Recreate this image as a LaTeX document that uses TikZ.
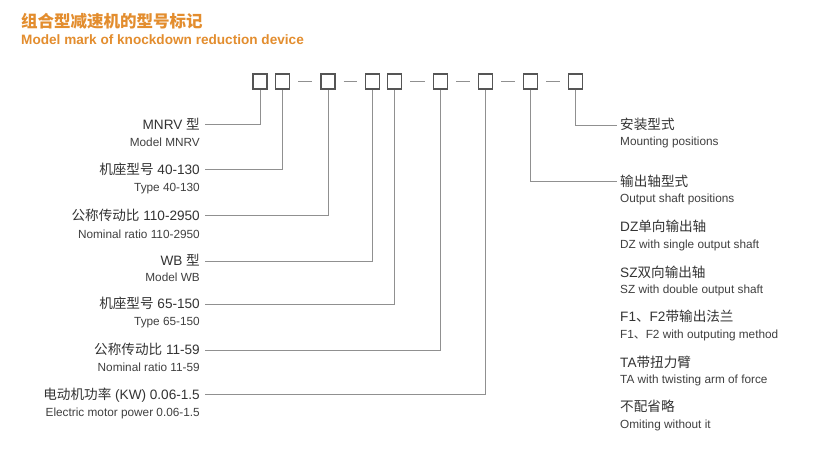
\documentclass[tikz,border=0pt]{standalone}
\usepackage{fontspec}
\setmainfont{Liberation Sans}
\newfontfamily\cjk{Noto Sans CJK SC}
\definecolor{ttl}{HTML}{E38D2E}
\definecolor{boxc}{HTML}{555555}
\definecolor{linec}{HTML}{909090}
\definecolor{maintxt}{HTML}{333333}
\definecolor{subtxt}{HTML}{404040}
\begin{document}
\begin{tikzpicture}[x=1pt,y=-1pt,
  mk/.style={draw=boxc, line width=1.3pt, minimum width=14pt, minimum height=15pt, inner sep=0pt, fill=white},
  conn/.style={draw=linec, line width=0.9pt},
  dashln/.style={draw=linec, line width=1pt, shorten <=8pt, shorten >=8pt},
  lmain/.style={font=\fontsize{13.6}{15}\selectfont, text=maintxt, text height=9.74pt, text depth=0pt, inner sep=0pt},
  lsub/.style={font=\fontsize{11.8}{13}\selectfont, text=subtxt, text height=8.45pt, text depth=0pt, inner sep=0pt}
]
\useasboundingbox[fill=white] (0,0) rectangle (821,461);

% title
\node[anchor=west, inner sep=0pt, text height=12.5pt, text depth=0pt, text=ttl,
      font=\cjk\bfseries\fontsize{16.5}{18}\selectfont] (t1) at (21,21.7) {组合型减速机的型号标记};
\node[anchor=west, inner sep=0pt, text height=9.8pt, text depth=0pt, text=ttl,
      font=\bfseries\fontsize{13.6}{15}\selectfont] (t2) at (21,39.3) {Model mark of knockdown reduction device};

% code boxes
\node[mk] (b1) at (260,81.5) {};
\node[mk] (b2) at (282.5,81.5) {};
\node[mk] (b3) at (328,81.5) {};
\node[mk] (b4) at (372.5,81.5) {};
\node[mk] (b5) at (394.5,81.5) {};
\node[mk] (b6) at (440.5,81.5) {};
\node[mk] (b7) at (485.5,81.5) {};
\node[mk] (b8) at (530.5,81.5) {};
\node[mk] (b9) at (575.5,81.5) {};

\draw[dashln] (b2) -- (b3);
\draw[dashln] (b3) -- (b4);
\draw[dashln] (b5) -- (b6);
\draw[dashln] (b6) -- (b7);
\draw[dashln] (b7) -- (b8);
\draw[dashln] (b8) -- (b9);

% left labels
\node[lmain, anchor=east] (L1) at (200,124.5) {MNRV {\cjk 型}};
\node[lsub, anchor=east] (S1) at (200,142) {Model MNRV};
\node[lmain, anchor=east] (L2) at (200,169.3) {{\cjk 机座型号} 40-130};
\node[lsub, anchor=east] (S2) at (200,187) {Type 40-130};
\node[lmain, anchor=east] (L3) at (200,215.5) {{\cjk 公称传动比} 110-2950};
\node[lsub, anchor=east] (S3) at (200,234) {Nominal ratio 110-2950};
\node[lmain, anchor=east] (L4) at (200,261) {WB {\cjk 型}};
\node[lsub, anchor=east] (S4) at (200,277) {Model WB};
\node[lmain, anchor=east] (L5) at (200,304) {{\cjk 机座型号} 65-150};
\node[lsub, anchor=east] (S5) at (200,321) {Type 65-150};
\node[lmain, anchor=east] (L6) at (200,350) {{\cjk 公称传动比} 11-59};
\node[lsub, anchor=east] (S6) at (200,367) {Nominal ratio 11-59};
\node[lmain, anchor=east] (L7) at (200,394.5) {{\cjk 电动机功率} (KW) 0.06-1.5};
\node[lsub, anchor=east] (S7) at (200,412) {Electric motor power 0.06-1.5};

\draw[conn] ([xshift=5pt]L1.east) -| (b1.south);
\draw[conn] ([xshift=5pt]L2.east) -| (b2.south);
\draw[conn] ([xshift=5pt]L3.east) -| (b3.south);
\draw[conn] ([xshift=5pt]L4.east) -| (b4.south);
\draw[conn] ([xshift=5pt]L5.east) -| (b5.south);
\draw[conn] ([xshift=5pt]L6.east) -| (b6.south);
\draw[conn] ([xshift=5pt]L7.east) -| (b7.south);

% right labels
\node[lmain, anchor=west] (R1) at (620,125) {\cjk 安装型式};
\node[lsub, anchor=west] (Q1) at (620,141.7) {Mounting positions};
\node[lmain, anchor=west] (R2) at (620,181.7) {\cjk 输出轴型式};
\node[lsub, anchor=west] (Q2) at (620,198) {Output shaft positions};
\node[lmain, anchor=west] (R3) at (620,226.7) {DZ{\cjk 单向输出轴}};
\node[lsub, anchor=west] (Q3) at (620,244) {DZ with single output shaft};
\node[lmain, anchor=west] (R4) at (620,272.7) {SZ{\cjk 双向输出轴}};
\node[lsub, anchor=west] (Q4) at (620,289.3) {SZ with double output shaft};
\node[lmain, anchor=west] (R5) at (620,316.7) {F1{\cjk 、}F2{\cjk 带输出法兰}};
\node[lsub, anchor=west] (Q5) at (620,334.3) {F1{\cjk 、}F2 with outputing method};
\node[lmain, anchor=west] (R6) at (620,362.7) {TA{\cjk 带扭力臂}};
\node[lsub, anchor=west] (Q6) at (620,379.3) {TA with twisting arm of force};
\node[lmain, anchor=west] (R7) at (620,406.7) {\cjk 不配省略};
\node[lsub, anchor=west] (Q7) at (620,424) {Omiting without it};

\draw[conn] (b9.south) |- ([xshift=-3pt]R1.west);
\draw[conn] (b8.south) |- ([xshift=-3pt]R2.west);
\end{tikzpicture}
\end{document}
